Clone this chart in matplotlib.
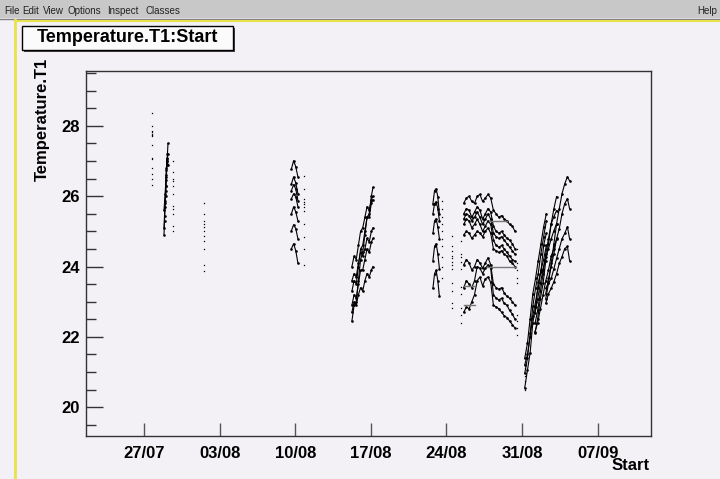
import numpy as np
import matplotlib.pyplot as plt
from matplotlib.patches import Rectangle
from matplotlib.lines import Line2D

plt.rcParams['font.family'] = ['Liberation Sans', 'DejaVu Sans']

# x values are days counted from 27/07
tick_days = [0, 7, 14, 21, 28, 35, 42]
tick_labels = ["27/07", "03/08", "10/08", "17/08", "24/08", "31/08", "07/09"]
y_ticks = [20, 22, 24, 26, 28]

# isolated readings (one column of points per sampling time)
column_days = [0.74, 2.69, 5.56, 14.8, 27.6, 28.5, 29.35, 34.55, 35.28]
column_temps = [
    [28.37, 28.0, 27.86, 27.83, 27.77, 27.74, 27.72, 27.46, 27.09, 27.06, 26.81, 26.64, 26.5, 26.33],
    [27.01, 26.7, 26.5, 26.44, 26.3, 26.07, 25.73, 25.65, 25.5, 25.16, 25.02],
    [25.82, 25.5, 25.3, 25.22, 25.13, 25.02, 24.88, 24.74, 24.51, 24.03, 23.86],
    [26.58, 26.21, 25.93, 25.84, 25.79, 25.7, 25.59, 25.22, 24.85, 24.51, 24.03],
    [25.87, 25.65, 25.42, 25.22, 25.02, 24.79, 24.57, 24.28, 24.0, 23.66],
    [24.88, 24.57, 24.45, 24.31, 24.23, 24.14, 24.03, 23.94, 23.52, 23.29, 22.95, 22.81],
    [24.74, 24.37, 24.28, 24.14, 23.94, 23.43, 23.23, 22.81, 22.61, 22.38],
    [24.51, 24.09, 23.89, 23.66, 23.52, 22.61, 22.44, 22.24, 22.04],
    [21.1, 20.88, 20.74, 20.48],
]

# end of July run
a_days = [1.85, 1.9, 1.95, 2.0, 2.04, 2.08, 2.12, 2.17, 2.22]
a_temps = [
    [24.9, 25.3, 25.7, 26.0, 26.3, 26.6, 26.9, 27.2, 27.5],
    [25.1, 25.45, 25.85, 26.15, 26.45, 26.75, 27.0, 27.1, 27.2],
    [25.6, 25.8, 26.05, 26.3, 26.55, 26.8, 27.05, 27.0, 26.9],
]

# 10/08 run
c_days = [13.65, 13.85, 14.05, 14.25]
c_temps = [
    [26.78, 27.01, 26.84, 26.55],
    [26.35, 26.55, 26.38, 26.07],
    [26.16, 26.33, 26.21, 25.87],
    [25.93, 26.07, 25.99, 25.7],
    [25.5, 25.7, 25.56, 25.3],
    [25.02, 25.19, 25.08, 24.79],
    [24.51, 24.65, 24.45, 24.1],
]

# 16/08 run
d_days = [19.25, 19.45, 19.65, 19.85, 20.05, 20.25, 20.45, 20.65, 20.85, 21.05, 21.2]
d_temps = [
    [22.45, 22.9, 23.0, 23.6, 24.2, 24.4, 24.9, 25.4, 25.5, 26.0, 26.25],
    [23.3, 23.6, 23.5, 24.0, 24.5, 24.6, 25.0, 25.4, 25.4, 25.8, 25.9],
    [24.0, 24.3, 24.2, 24.6, 25.0, 25.1, 25.4, 25.7, 25.6, 25.9, 26.0],
    [22.9, 23.2, 23.1, 23.5, 23.9, 23.9, 24.2, 24.5, 24.4, 24.7, 24.8],
    [23.6, 23.8, 23.7, 24.1, 24.4, 24.3, 24.5, 24.8, 24.7, 25.0, 25.1],
    [22.7, 23.0, 22.9, 23.2, 23.4, 23.3, 23.6, 23.8, 23.7, 23.9, 24.0],
]

# 23/08 run
e_days = [26.75, 26.9, 27.05, 27.2, 27.35]
e_temps = [
    [25.79, 26.16, 26.21, 25.99, 25.5],
    [25.5, 25.79, 25.84, 25.65, 25.3],
    [24.94, 25.3, 25.36, 25.13, 24.79],
    [24.17, 24.57, 24.65, 24.37, 23.94],
    [23.38, 23.8, 23.89, 23.6, 23.15],
]

# 25/08 - 30/08 run
f_days = [29.6, 29.85, 30.1, 30.35, 30.6, 30.85, 31.1, 31.35, 31.6, 31.85,
          32.1, 32.35, 32.6, 32.85, 33.1, 33.35, 33.6, 33.85, 34.1, 34.35]
f_temps = [
    [25.8, 25.95, 26.0, 25.85, 25.8, 26.0, 26.05, 25.85, 25.95, 26.05, 25.95, 25.6, 25.5, 25.4, 25.45, 25.35, 25.3, 25.2, 25.15, 25.0],
    [25.5, 25.65, 25.6, 25.4, 25.55, 25.7, 25.6, 25.35, 25.5, 25.65, 25.55, 25.15, 25.0, 24.95, 25.0, 24.9, 24.8, 24.75, 24.65, 24.5],
    [25.35, 25.5, 25.45, 25.3, 25.4, 25.55, 25.4, 25.2, 25.35, 25.5, 25.35, 24.95, 24.85, 24.8, 24.85, 24.75, 24.65, 24.55, 24.45, 24.35],
    [25.2, 25.35, 25.3, 25.1, 25.2, 25.35, 25.2, 25.0, 25.15, 25.3, 25.2, 24.75, 24.6, 24.55, 24.6, 24.5, 24.4, 24.3, 24.2, 24.15],
    [24.9, 25.0, 24.95, 24.8, 24.9, 25.0, 24.95, 24.85, 25.0, 25.1, 24.95, 24.5, 24.45, 24.4, 24.45, 24.35, 24.3, 24.15, 24.1, 24.0],
    [24.05, 24.2, 24.1, 23.9, 24.0, 24.2, 24.1, 23.95, 24.1, 24.25, 24.05, 23.5, 23.4, 23.35, 23.4, 23.25, 23.15, 23.1, 23.0, 22.9],
    [23.4, 23.6, 23.5, 23.4, 23.6, 24.0, 23.95, 23.8, 23.95, 24.05, 23.95, 23.2, 23.1, 23.05, 23.1, 22.95, 22.9, 22.75, 22.65, 22.5],
    [22.7, 22.85, 22.8, 23.0, 23.2, 23.6, 23.7, 23.45, 23.65, 23.7, 23.55, 22.9, 22.85, 22.8, 22.7, 22.6, 22.55, 22.45, 22.35, 22.25],
]
flat_days = [[31.9, 33.65], [31.75, 34.4], [29.6, 30.6], [29.6, 30.6]]
flat_temps = [[25.3, 25.3], [24.0, 24.0], [23.45, 23.45], [22.9, 22.9]]

# 31/08 - 04/09 run, three groups of sensors
ga_days = [35.25, 35.5, 35.75, 36.0, 36.25, 36.5, 36.75, 37.0, 37.25]
ga_temps = [
    [20.55, 21.05, 21.55, 22.4, 22.85, 23.55, 23.85, 24.6, 24.95],
    [20.96, 21.39, 22.1, 22.87, 23.38, 23.8, 24.37, 24.85, 25.3],
    [21.39, 21.82, 22.52, 23.23, 23.66, 24.17, 24.65, 25.13, 25.5],
    [21.2, 21.5, 22.0, 22.6, 23.0, 23.4, 23.9, 24.2, 24.6],
]
gb_days = [36.2, 36.45, 36.7, 36.95, 37.2, 37.45, 37.7, 37.95, 38.2]
gb_temps = [
    [22.1, 22.52, 23.09, 23.52, 24.17, 24.65, 25.22, 25.65, 25.99],
    [22.38, 22.75, 23.29, 23.8, 24.37, 24.79, 25.22, 25.42, 25.59],
    [22.67, 23.09, 23.52, 23.94, 24.28, 24.51, 24.79, 25.02, 25.22],
    [22.15, 22.4, 22.8, 23.2, 23.6, 23.9, 24.3, 24.5, 24.8],
]
gc_days = [37.2, 37.45, 37.7, 37.95, 38.2, 38.45, 38.7, 38.95, 39.2, 39.4]
gc_temps = [
    [23.09, 23.52, 24.09, 24.65, 25.22, 25.65, 26.07, 26.35, 26.55, 26.44],
    [23.23, 23.66, 24.0, 24.37, 24.79, 25.08, 25.5, 25.79, 25.93, 25.65],
    [23.38, 23.52, 23.66, 23.94, 24.23, 24.51, 24.79, 24.94, 25.13, 24.79],
    [22.95, 23.23, 23.38, 23.57, 23.8, 24.09, 24.28, 24.51, 24.57, 24.17],
]

bg = '#f3f1f5'
fig = plt.figure(figsize=(7.2, 4.79), dpi=100, facecolor=bg)

# menu bar
fig.add_artist(Rectangle((0, 1 - 18 / 479), 1, 18 / 479, transform=fig.transFigure,
                         facecolor='#c8c8c8', edgecolor='none'))
fig.add_artist(Line2D([0, 1], [1 - 19 / 479] * 2, transform=fig.transFigure, color='#808080', lw=1))
for name, xpix in [("File", 4), ("Edit", 22), ("View", 43), ("Options", 68),
                   ("Inspect", 107), ("Classes", 146)]:
    fig.text(xpix / 720, 1 - 11 / 479, name, fontsize=7, va='center', ha='left', color='#222222')
fig.text(717 / 720, 1 - 11 / 479, "Help", fontsize=7, va='center', ha='right', color='#222222')

# yellow canvas border
fig.add_artist(Line2D([15 / 720] * 2, [0, 1 - 20 / 479], transform=fig.transFigure, color='#e8e34a', lw=2))
fig.add_artist(Line2D([15 / 720, 1], [1 - 21 / 479] * 2, transform=fig.transFigure, color='#e8e34a', lw=1.5))

ax = fig.add_axes([86 / 720, 43 / 479, 565 / 720, 365.3 / 479])
ax.set_facecolor(bg)

line_kw = dict(color='black', lw=0.8, marker='s', ms=0.8)
for temps in a_temps:
    ax.plot(a_days, temps, **line_kw)
for temps in c_temps:
    ax.plot(c_days, temps, **line_kw)
for temps in d_temps:
    ax.plot(d_days, temps, **line_kw)
for temps in e_temps:
    ax.plot(e_days, temps, **line_kw)
for temps in f_temps:
    ax.plot(f_days, temps, **line_kw)
for days, temps in zip(flat_days, flat_temps):
    ax.plot(days, temps, color='#777777', lw=1.0)
for temps in ga_temps:
    ax.plot(ga_days, temps, **line_kw)
for temps in gb_temps:
    ax.plot(gb_days, temps, **line_kw)
for temps in gc_temps:
    ax.plot(gc_days, temps, **line_kw)
for day, temps in zip(column_days, column_temps):
    ax.plot([day] * len(temps), temps, ls='none', marker='s', ms=0.9, mew=0, color='black')

ax.set_xlim(-5.37, 46.94)
ax.set_ylim(19.18, 29.57)
ax.set_xticks(tick_days)
ax.set_xticklabels(tick_labels)
ax.set_yticks(y_ticks)
ax.set_yticks(np.arange(19.5, 29.6, 0.5), minor=True)
ax.tick_params(axis='y', which='major', direction='in', length=12.2, width=1, color='#333333',
               labelsize=12, pad=4.5)
ax.tick_params(axis='y', which='minor', direction='in', length=7.2, width=1, color='#333333')
ax.tick_params(axis='x', which='major', direction='in', length=9.4, width=1, color='#555555',
               labelsize=12, pad=7)
for lbl in ax.get_xticklabels() + ax.get_yticklabels():
    lbl.set_fontweight('bold')
for sp in ax.spines.values():
    sp.set_color('#333333')
    sp.set_linewidth(1)

fig.text(42 / 720, 1 - 58 / 479, "Temperature.T1", rotation=90, ha='center', va='top',
         fontsize=12, fontweight='bold')
fig.text(650 / 720, 1 - 465 / 479, "Start", ha='right', va='center', fontsize=12, fontweight='bold')

# title pave
fig.add_artist(Rectangle((24 / 720, 1 - 52 / 479), 211 / 720, 24 / 479, transform=fig.transFigure,
                         facecolor='#444444', edgecolor='none'))
fig.add_artist(Rectangle((22 / 720, 1 - 50 / 479), 211 / 720, 24 / 479, transform=fig.transFigure,
                         facecolor='#fbfbfb', edgecolor='black', lw=1))
fig.text(127.5 / 720, 1 - 38 / 479, "Temperature.T1:Start", ha='center', va='center',
         fontsize=13, fontweight='bold')

fig.savefig('out.png', dpi=100, facecolor=bg)
